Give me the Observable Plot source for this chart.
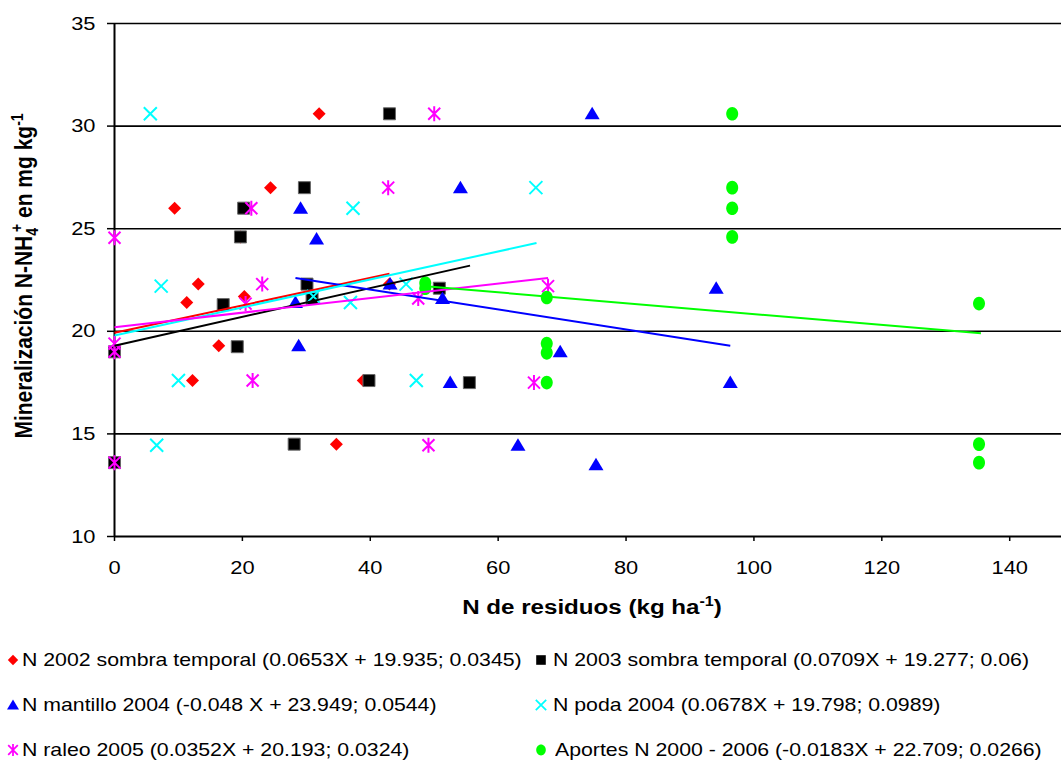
<!DOCTYPE html>
<html><head><meta charset="utf-8">
<script src="https://cdn.jsdelivr.net/npm/d3@7"></script>
<script src="https://cdn.jsdelivr.net/npm/@observablehq/plot@0.6"></script>
<style>
body{margin:0;background:#fff;font-family:"Liberation Sans",Arial,sans-serif;}
#legend{position:relative;width:1061px;height:137px;font-size:18.5px;color:#000;}
.mk{position:absolute;width:16px;height:16px;}
.tx{position:absolute;white-space:nowrap;line-height:22px;transform:scaleX(1.15);transform-origin:0 50%;}
</style></head><body><div id="chart"></div><div id="legend"></div>
<script>
// ---- data ----
const xTicks = [0, 20, 40, 60, 80, 100, 120, 140];
const yTicks = [10, 15, 20, 25, 30, 35];
const gridY = [15, 20, 25, 30, 35];

const seriesNames = [
  "N 2002 sombra temporal (0.0653X + 19.935; 0.0345)",
  "N 2003 sombra temporal (0.0709X + 19.277; 0.06)",
  "N mantillo 2004 (-0.048 X + 23.949; 0.0544)",
  "N poda 2004 (0.0678X + 19.798; 0.0989)",
  "N raleo 2005 (0.0352X + 20.193; 0.0324)",
  "Aportes N 2000 - 2006 (-0.0183X + 22.709; 0.0266)"
];
const seriesColors = ["#FF0000", "#000000", "#0000FF", "#00FFFF", "#FF00FF", "#00FF00"];

const redX = [32, 24.4, 9.4, 13.1, 11.3, 20.3, 16.3, 12.2, 19.7, 0, 34.7, 38.9, 43];
const redY = [30.6, 27, 26, 22.3, 21.4, 21.7, 19.3, 17.6, 24.6, 13.6, 14.5, 17.6, 22.3];

const blackX = [43, 29.7, 20.2, 19.7, 30.1, 17.0, 30.9, 19.2, 0, 0, 28.1, 39.8, 55.5, 50.8];
const blackY = [30.6, 27, 26, 24.6, 22.3, 21.3, 21.6, 19.25, 19.0, 13.6, 14.5, 17.6, 17.5, 22.1];

const blueX = [74.7, 54.1, 29.1, 31.6, 28.3, 43.1, 51.3, 28.8, 52.5, 69.7, 96.3, 63.1, 75.3, 94.1];
const blueY = [30.6, 27, 26, 24.5, 21.4, 22.3, 21.6, 19.3, 17.5, 19.0, 17.5, 14.45, 13.5, 22.1];

const cyanX = [5.6, 65.9, 37.3, 7.3, 36.9, 45.6, 31.1, 10.0, 47.2, 6.6];
const cyanY = [30.6, 27, 26, 22.2, 21.4, 22.3, 21.7, 17.6, 17.6, 14.45];

const magentaX = [50, 42.8, 21.4, 23.1, 0, 20.5, 47.5, 67.8, 0, 0, 21.6, 65.6, 49.1, 0];
const magentaY = [30.6, 27, 26, 22.3, 24.56, 21.35, 21.6, 22.2, 19.4, 19.0, 17.6, 17.5, 14.45, 13.6];

const greenX = [96.6, 96.6, 96.6, 96.6, 67.6, 48.6, 48.6, 67.6, 67.6, 67.6, 135.2, 135.2, 135.2];
const greenY = [30.6, 27, 26, 24.6, 21.65, 22.35, 22.1, 19.4, 18.95, 17.5, 21.35, 14.5, 13.6];

// trend line end points as drawn in the reference (order = series order)
const trendX1 = [0, 0, 28.3, 0, 0, 48.7];
const trendY1 = [19.93, 19.3, 22.6, 19.8, 20.2, 22.2];
const trendX2 = [43, 55.6, 96.3, 66, 67.8, 135.5];
const trendY2 = [22.8, 23.2, 19.3, 24.3, 22.6, 19.9];

// ---- marker shapes ----
const symDiamond = {draw(c){c.moveTo(0,-6.5);c.lineTo(6.5,0);c.lineTo(0,6.5);c.lineTo(-6.5,0);c.closePath();}};
const symSquare = {draw(c){c.moveTo(-6,-6);c.lineTo(6,-6);c.lineTo(6,6);c.lineTo(-6,6);c.closePath();}};
const symTriangle = {draw(c){c.moveTo(0,-7);c.lineTo(7.5,5.5);c.lineTo(-7.5,5.5);c.closePath();}};
const symTimes = {draw(c){c.moveTo(-6.5,-6.5);c.lineTo(6.5,6.5);c.moveTo(6.5,-6.5);c.lineTo(-6.5,6.5);}};
const symStar = {draw(c){c.moveTo(0,-7.5);c.lineTo(0,7.5);c.moveTo(-6,-6);c.lineTo(6,6);c.moveTo(6,-6);c.lineTo(-6,6);}};
const symEllipse = {draw(c){const rx=6,ry=6.8,k=0.5523;
  c.moveTo(0,-ry);
  c.bezierCurveTo(k*rx,-ry,rx,-k*ry,rx,0);
  c.bezierCurveTo(rx,k*ry,k*rx,ry,0,ry);
  c.bezierCurveTo(-k*rx,ry,-rx,k*ry,-rx,0);
  c.bezierCurveTo(-rx,-k*ry,-k*rx,-ry,0,-ry);
  c.closePath();}};

const symbols = [symDiamond, symSquare, symTriangle, symTimes, symStar, symEllipse];
const filled = [true, true, true, false, false, true];
const xs = [redX, blackX, blueX, cyanX, magentaX, greenX];
const ys = [redY, blackY, blueY, cyanY, magentaY, greenY];

const pointMarks = xs.map((X, s) => {
  const data = X.map((x, i) => ({x, y: ys[s][i]}));
  return filled[s]
    ? Plot.dot(data, {x: "x", y: "y", symbol: symbols[s], fill: seriesColors[s],
        stroke: s === 1 ? "#666" : "none", strokeWidth: s === 1 ? 1 : 0})
    : Plot.dot(data, {x: "x", y: "y", symbol: symbols[s], fill: "none",
        stroke: seriesColors[s], strokeWidth: 2});
});

const trends = seriesColors.map((c, i) => ({x1: trendX1[i], y1: trendY1[i], x2: trendX2[i], y2: trendY2[i], c}));

const chart = Plot.plot({
  width: 1061, height: 625,
  marginLeft: 114, marginRight: 0, marginTop: 23, marginBottom: 89,
  style: {fontFamily: "'Liberation Sans', Arial, sans-serif", fontSize: "19px", color: "#000", background: "#fff", overflow: "visible"},
  x: {domain: [0, 148.1]},
  y: {domain: [10, 35]},
  marks: [
    Plot.ruleY(gridY, {stroke: "#000", strokeWidth: 1.6}),
    Plot.ruleY([10], {stroke: "#000", strokeWidth: 2}),
    Plot.ruleX([0], {stroke: "#000", strokeWidth: 2}),
    Plot.axisX({ticks: xTicks, tickSize: 5, tickPadding: 19, label: null, fontSize: 19, stroke: "#000", strokeWidth: 1.5}),
    Plot.axisY({ticks: yTicks, tickSize: 7, tickPadding: 12, label: null, fontSize: 19, stroke: "#000", strokeWidth: 1.5}),
    ...pointMarks,
    Plot.link(trends, {x1: "x1", y1: "y1", x2: "x2", y2: "y2", stroke: "c", strokeWidth: 2})
  ]
});
document.getElementById("chart").appendChild(chart);

// widen tick label glyphs horizontally (reference text is horizontally stretched)
function stretch(nodes, k) {
  nodes.forEach(el => {
    const take = a => {
      const v = el.getAttribute(a);
      if (v == null || /[a-z%]/i.test(v)) return 0;
      el.removeAttribute(a);
      return +v;
    };
    const x = take("x"), y = take("y"), dx = take("dx");
    const t = el.getAttribute("transform") || "";
    el.setAttribute("transform", `${t} translate(${x + dx},${y}) scale(${k},1)`);
  });
}
stretch(Array.from(chart.querySelectorAll('g[aria-label="x-axis tick label"] text, g[aria-label="y-axis tick label"] text')), 1.15);

const svg = d3.select(chart);
svg.append("text")
  .attr("transform", "translate(32,276) scale(1.15,1) rotate(-90)")
  .attr("text-anchor", "middle")
  .attr("font-weight", "bold")
  .attr("font-size", 21)
  .attr("fill", "#000")
  .html('Mineralización N-NH<tspan dy="5" font-size="14">4</tspan><tspan dy="-14" dx="-4" font-size="14">+</tspan><tspan dy="9"> en mg kg</tspan><tspan dy="-8" font-size="14">-1</tspan>');
svg.append("text")
  .attr("transform", "translate(592,614) scale(1.15,1)")
  .attr("text-anchor", "middle")
  .attr("font-weight", "bold")
  .attr("font-size", 21)
  .attr("fill", "#000")
  .html('N de residuos (kg ha<tspan dy="-8" font-size="14">-1</tspan><tspan dy="8">)</tspan>');

// ---- legend ----
const legend = document.getElementById("legend");
const colMk = [13, 541], colTx = [22, 553];
const rowY = [35, 80, 125];
seriesNames.forEach((name, i) => {
  const col = i % 2, row = Math.floor(i / 2);
  const p = d3.path(); symbols[i].draw(p);
  const mk = document.createElementNS("http://www.w3.org/2000/svg", "svg");
  mk.setAttribute("class", "mk");
  mk.setAttribute("viewBox", "-8 -8 16 16");
  mk.style.left = (colMk[col] - 8) + "px";
  mk.style.top = (rowY[row] - 8) + "px";
  const path = document.createElementNS("http://www.w3.org/2000/svg", "path");
  path.setAttribute("d", p.toString());
  path.setAttribute("transform", "scale(0.8)");
  if (filled[i]) { path.setAttribute("fill", seriesColors[i]); }
  else { path.setAttribute("fill", "none"); path.setAttribute("stroke", seriesColors[i]); path.setAttribute("stroke-width", 2.2); }
  mk.appendChild(path);
  legend.appendChild(mk);
  const t = document.createElement("div");
  t.className = "tx";
  t.textContent = name;
  t.style.left = colTx[col] + (i === 5 ? 2 : 0) + "px";
  t.style.top = (rowY[row] - 11) + "px";
  legend.appendChild(t);
});
</script></body></html>
